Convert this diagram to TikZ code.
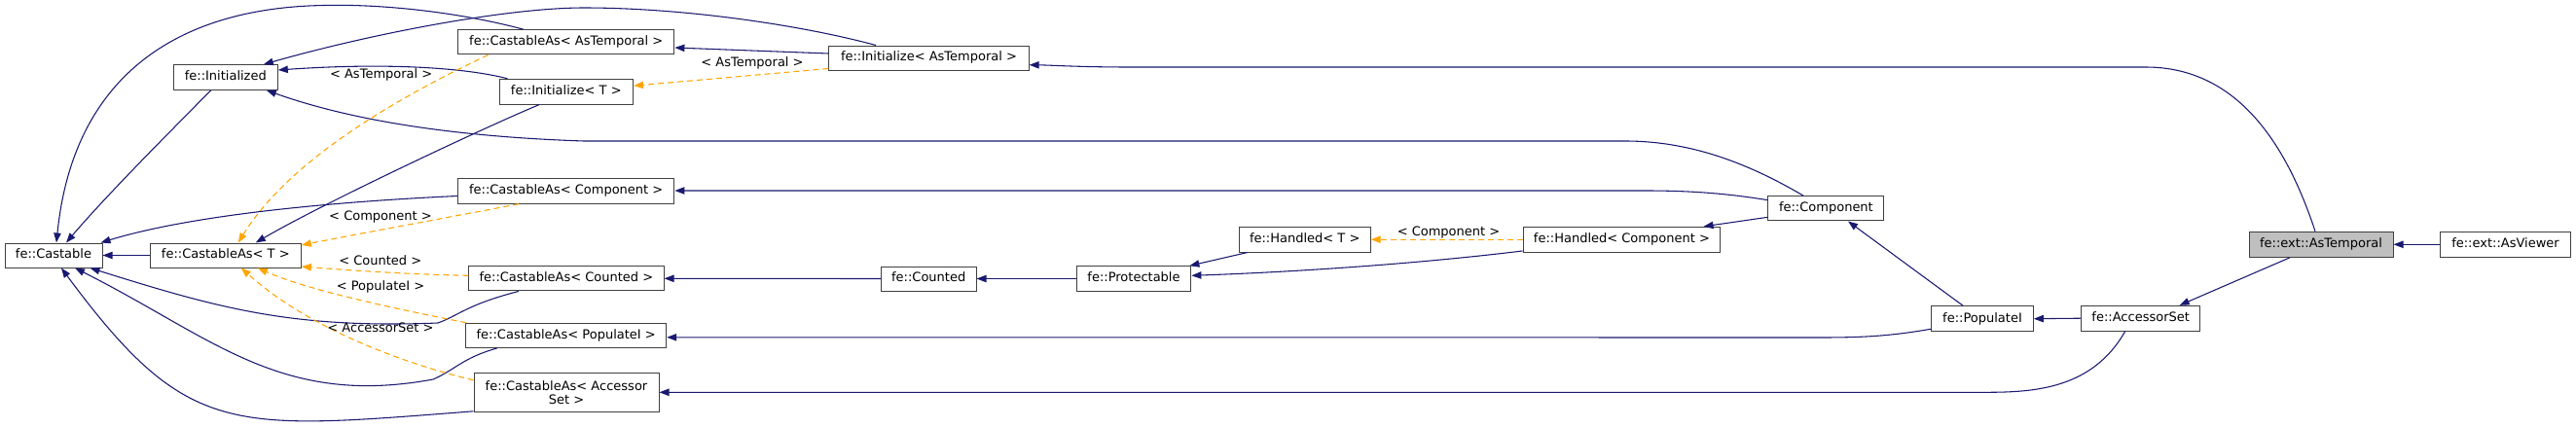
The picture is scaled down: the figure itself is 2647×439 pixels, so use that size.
\documentclass[tikz,border=0pt]{standalone}
\usepackage{fontspec}
\setmainfont{DejaVu Sans}
\usetikzlibrary{arrows.meta,calc}
\definecolor{edgeblue}{HTML}{191970}
\definecolor{tmplorange}{HTML}{FFA500}
\definecolor{boxgray}{HTML}{404040}
\definecolor{mainfill}{HTML}{BFBFBF}
\tikzset{
  boxbase/.style={draw=boxgray, line width=0.75pt, fill=white, inner sep=0pt,
    font=\fontsize{9.75}{10.5}\selectfont},
  cls/.style={boxbase, text height=7.3pt, text depth=2.3pt},
  lbl/.style={inner sep=0pt, font=\fontsize{9.75}{10.5}\selectfont, text height=7.3pt, text depth=2.3pt},
  inh/.style={draw=edgeblue, line width=0.8pt, -{Triangle[length=7.5pt,width=5.5pt]}},
  tmpl/.style={draw=tmplorange, line width=0.8pt, dash pattern=on 4.5pt off 3pt,
    -{Triangle[length=7.5pt,width=5.5pt]}}
}
\begin{document}
\begin{tikzpicture}[x=0.75pt,y=-0.75pt]
\fill[white] (0,0) rectangle (2647,439);
\useasboundingbox (0,0) rectangle (2647,439);

% nodes
\node[cls, minimum width=75pt, minimum height=18.75pt] (castable) at (55,262.5) {fe::Castable};
\node[cls, minimum width=116.25pt, minimum height=18.75pt] (castT) at (231.8,262.5) {fe::CastableAs< T >};
\node[cls, minimum width=80.25pt, minimum height=19.2pt] (initd) at (231.8,79.5) {fe::Initialized};
\node[cls, minimum width=166.8pt, minimum height=19pt] (castAT) at (581.7,43.3) {fe::CastableAs< AsTemporal >};
\node[cls, minimum width=103.1pt, minimum height=19.3pt] (initT) at (581.8,94.2) {fe::Initialize< T >};
\node[cls, minimum width=154pt, minimum height=18.75pt] (initAT) at (954.5,59.5) {fe::Initialize< AsTemporal >};
\node[cls, minimum width=166.8pt, minimum height=19pt] (castComp) at (581.7,196.5) {fe::CastableAs< Component >};
\node[cls, minimum width=150.2pt, minimum height=19pt] (castCount) at (581.9,286.3) {fe::CastableAs< Counted >};
\node[cls, minimum width=73.2pt, minimum height=18.75pt] (counted) at (954.2,286.5) {fe::Counted};
\node[cls, minimum width=154.5pt, minimum height=18.75pt] (castPop) at (581.7,344.8) {fe::CastableAs< PopulateI >};
\node[boxbase, align=center, minimum width=142.5pt, minimum height=30pt] (castAcc) at (582,403.3) {fe::CastableAs< Accessor\\Set >};
\node[cls, minimum width=88.3pt, minimum height=19.2pt] (protect) at (1165,286.5) {fe::Protectable};
\node[cls, minimum width=101.25pt, minimum height=19.3pt] (handT) at (1340.7,246.2) {fe::Handled< T >};
\node[cls, minimum width=152.1pt, minimum height=19.3pt] (handComp) at (1666.4,246.2) {fe::Handled< Component >};
\node[cls, minimum width=89.25pt, minimum height=19pt] (comp) at (1876.4,214.3) {fe::Component};
\node[cls, minimum width=78.4pt, minimum height=19.5pt] (popI) at (2037,327.7) {fe::PopulateI};
\node[cls, minimum width=91.5pt, minimum height=19.3pt] (accSet) at (2199.7,327.2) {fe::AccessorSet};
\node[cls, fill=mainfill, minimum width=111pt, minimum height=19.5pt] (asTemp) at (2385,251.3) {fe::ext::AsTemporal};
\node[cls, minimum width=100.1pt, minimum height=19.5pt] (asView) at (2574.5,251.3) {fe::ext::AsViewer};

% edges
\draw[inh] (castT.west) -- (castable.east);
\draw[inh] ($(initd.south)+(-15,0)$) .. controls (180,130) and (110,200) .. ($(castable.north)+(13,0)$);
\draw[inh] ($(castAT.north)+(-44,0)$) .. controls (470,12) and (390,4) .. (333,5.5) .. controls (180,8) and (75,80) .. ($(castable.north)+(3,0)$);
\draw[inh] ($(initAT.north)+(-54.5,0)$) .. controls (820,25) and (700,8) .. (600,8) .. controls (520,8) and (380,35) .. ($(initd.north east)+(-15,0)$);
\draw[inh] ($(initAT.west)+(0,-4.5)$) -- ($(castAT.east)+(0,5.7)$);
\draw[tmpl] ($(initAT.west)+(0,11)$) -- ($(initT.east)+(0,-6)$);
\draw[inh] ($(initT.north west)+(9,0)$) .. controls (480,70) and (400,64) .. ($(initd.east)+(0,-7.5)$);
\draw[inh] ($(initT.south)+(-27.6,0)$) .. controls (500,130) and (330,210) .. ($(castT.north)+(31,0)$);
\draw[tmpl] ($(castAT.south west)+(31.5,0)$) .. controls (420,95) and (300,160) .. ($(castT.north)+(13,0)$);
\draw[inh] ($(comp.north)+(-23.4,0)$) .. controls (1800,170) and (1740,145) .. (1670,145) -- (600,145) .. controls (450,140) and (350,120) .. ($(initd.south east)+(-12,0)$);
\draw[inh] ($(castComp.west)+(0,5)$) .. controls (350,207) and (200,220) .. ($(castable.north east)+(-2,0)$);
\draw[tmpl] ($(castComp.south)+(-48.7,0)$) .. controls (480,220) and (380,238) .. ($(castT.east)+(0,-10.5)$);
\draw[inh] ($(comp.west)+(0,-8.6)$) .. controls (1770,198) and (1730,196) .. (1691,196) -- ($(castComp.east)+(0,-0.5)$);
\draw[inh] ($(comp.west)+(0,9)$) -- ($(handComp.north east)+(-17.8,0)$);
\draw[tmpl] (handComp.west) -- (handT.east);
\draw[inh] ($(handComp.south west)+(0,-1.6)$) .. controls (1450,272) and (1320,280) .. ($(protect.east)+(0,-3.2)$);
\draw[inh] ($(handT.south west)+(9,0)$) -- ($(protect.north east)+(-2,0)$);
\draw[inh] (protect.west) -- (counted.east);
\draw[inh] (counted.west) -- (castCount.east);
\draw[tmpl] ($(castCount.west)+(0,-3)$) .. controls (420,282) and (360,278) .. ($(castT.east)+(0,11.5)$);
\draw[inh] ($(castCount.south)+(-49,0)$) .. controls (480,313) and (470,325) .. (450,332) .. controls (300,338) and (225,317) .. ($(castable.south east)+(-13,0)$);
\draw[tmpl] ($(castPop.north west)+(1,0)$) .. controls (420,320) and (320,300) .. ($(castT.south)+(33,0)$);
\draw[inh] ($(castPop.south west)+(33,0)$) .. controls (475,368) and (468,380) .. (445,390) .. controls (288,419) and (219,347) .. ($(castable.south)+(22,0)$);
\draw[tmpl] ($(castAcc.north west)+(0,8)$) .. controls (420,375) and (320,340) .. ($(castT.south)+(16,0)$);
\draw[inh] ($(castAcc.south west)+(0,-1)$) .. controls (237,442) and (193,451) .. ($(castable.south)+(8,0)$);
\draw[inh] ($(popI.south west)+(0,-3)$) .. controls (1940,346) and (1910,347) .. (1870,347) -- ($(castPop.east)+(0,2)$);
\draw[inh] ($(accSet.south)+(-16,0)$) .. controls (2150,400) and (2090,403.3) .. (2040,403.3) -- (castAcc.east);
\draw[inh] (accSet.west) -- (popI.east);
\draw[inh] ($(popI.north)+(-20,0)$) -- ($(comp.south)+(22.6,0)$);
\draw[inh] ($(asTemp.south)+(-32,0)$) -- ($(accSet.north)+(40,0)$);
\draw[inh] ($(asTemp.north)+(-6,0)$) .. controls (2350,150) and (2300,69) .. (2205,69) -- (1161,69) .. controls (1110,69) and (1080,67) .. ($(initAT.east)+(0,7.2)$);
\draw[inh] (asView.west) -- (asTemp.east);

% labels
\node[lbl] (l1) at (391.7,77) {< AsTemporal >};
\node[lbl] (l2) at (773,65.6) {< AsTemporal >};
\node[lbl] (l3) at (391,223) {< Component >};
\node[lbl] (l4) at (390.7,268.7) {< Counted >};
\node[lbl] (l5) at (391,294.7) {< PopulateI >};
\node[lbl] (l6) at (391,338) {< AccessorSet >};
\node[lbl] (l7) at (1488.5,238.8) {< Component >};
\end{tikzpicture}
\end{document}
